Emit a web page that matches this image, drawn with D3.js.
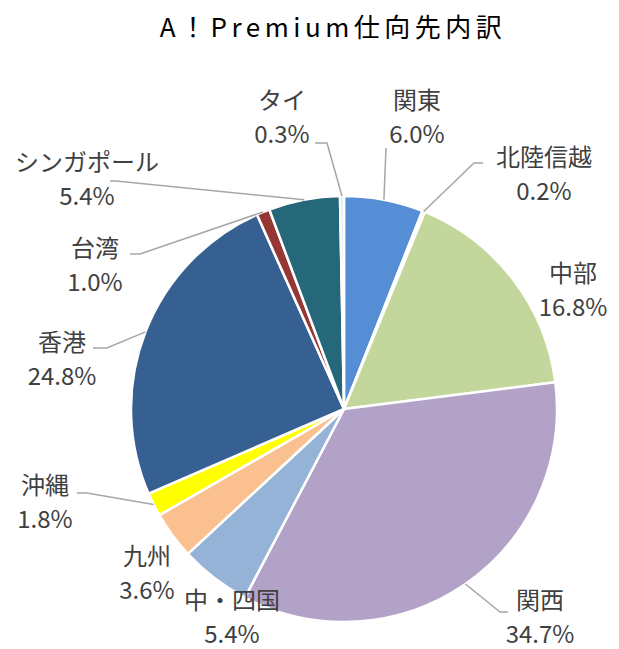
<!DOCTYPE html>
<html>
<head>
<meta charset="utf-8">
<script src="https://cdn.jsdelivr.net/npm/d3@7"></script>
<style>
  body { margin: 0; background: #fff; }
  text { font-family: "Noto Sans CJK JP", "Noto Sans", sans-serif; }
</style>
</head>
<body>
<div id="chart"></div>
<script>
const categories = ["関東", "北陸信越", "中部", "関西", "中・四国", "九州", "沖縄", "香港", "台湾", "シンガポール", "タイ"];
const shares = [6.0, 0.2, 16.8, 34.7, 5.4, 3.6, 1.8, 24.8, 1.0, 5.4, 0.3];
const colors = ["#558ED5", "#C0504D", "#C3D69B", "#B3A2C7", "#95B3D7", "#FAC090", "#FFFF00", "#376092", "#953735", "#25687A", "#DCE6F2"];

// label placement (text centre) and leader line (end, elbow) — layout only
const labelPos = [
    [417, 98], [544, 155], [573, 271], [540, 598], [232, 598], [147, 554],
    [45, 483], [62, 340], [95, 246], [87, 160], [282, 98]
];
const leaders = {
    0: [[386, 148], [386, 148]],
    1: [[483, 163], [474, 163]],
    3: [[508, 612], [500, 612]],
    6: [[77, 493], [87, 493]],
    7: [[93, 348], [107, 348]],
    8: [[130, 254], [140, 254]],
    9: [[110, 181], [116, 181]],
    10: [[315, 143], [327, 143]]
};

const width = 619, height = 649;
const cx = 344, cy = 409, radius = 213;

const svg = d3.select("#chart")
    .append("svg")
    .attr("width", width)
    .attr("height", height);

svg.append("text")
    .attr("x", 333)
    .attr("y", 25)
    .attr("text-anchor", "middle")
    .attr("dominant-baseline", "central")
    .style("font-size", "26px")
    .style("letter-spacing", "4.5px")
    .style("fill", "#000")
    .text("A！Premium仕向先内訳");

const data = categories.map((c, i) => ({ name: c, value: shares[i], i: i }));

const pie = d3.pie()
    .sort(null)
    .value(d => d.value);

const arc = d3.arc()
    .innerRadius(0)
    .outerRadius(radius);

const arcs = pie(data);

const g = svg.append("g")
    .attr("transform", `translate(${cx},${cy})`);

g.selectAll("path")
    .data(arcs)
    .join("path")
    .attr("d", arc)
    .attr("fill", d => colors[d.data.i])
    .attr("stroke", "#fff")
    .attr("stroke-width", 2.5)
    .attr("stroke-linejoin", "round");

// leader lines
arcs.forEach(d => {
    const ld = leaders[d.data.i];
    if (!ld) return;
    const a = (d.startAngle + d.endAngle) / 2;
    const px = cx + radius * Math.sin(a);
    const py = cy - radius * Math.cos(a);
    svg.append("polyline")
        .attr("points", `${px},${py} ${ld[1][0]},${ld[1][1]} ${ld[0][0]},${ld[0][1]}`)
        .attr("fill", "none")
        .attr("stroke", "#A6A6A6")
        .attr("stroke-width", 1.5);
});

// labels
const labels = svg.append("g");
data.forEach((d, i) => {
    const [lx, ly] = labelPos[i];
    labels.append("text")
        .attr("x", lx)
        .attr("y", ly)
        .attr("text-anchor", "middle")
        .attr("dominant-baseline", "central")
        .style("font-size", "24px")
        .style("fill", "#404040")
        .text(d.name);
    labels.append("text")
        .attr("x", lx)
        .attr("y", ly + 34)
        .attr("text-anchor", "middle")
        .attr("dominant-baseline", "central")
        .style("font-size", "24px")
        .style("fill", "#404040")
        .text(d.value.toFixed(1) + "%");
});
</script>
</body>
</html>
